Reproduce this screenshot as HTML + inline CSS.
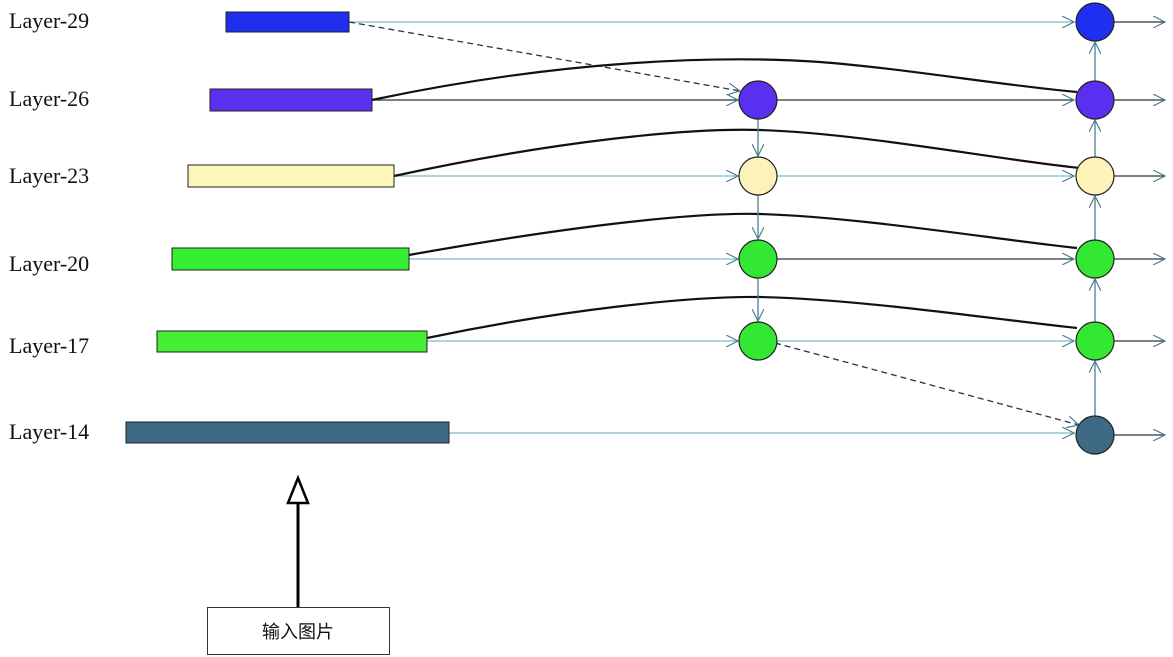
<!DOCTYPE html>
<html><head><meta charset="utf-8"><style>
html,body{margin:0;padding:0;background:#fff;}
svg{display:block}
text{font-family:"Liberation Serif",serif;font-size:22px;fill:#111}
</style></head><body>
<svg width="1173" height="657" viewBox="0 0 1173 657" xmlns="http://www.w3.org/2000/svg">
<defs>
<marker id="a" markerWidth="14" markerHeight="12" refX="12" refY="6" orient="auto" markerUnits="userSpaceOnUse">
<path d="M0,0 L12,6 L0,12" fill="none" stroke="#4a7f95" stroke-width="1.2"/>
</marker>
</defs>
<g>
<text x="9" y="28">Layer-29</text>
<text x="9" y="106">Layer-26</text>
<text x="9" y="183">Layer-23</text>
<text x="9" y="271">Layer-20</text>
<text x="9" y="353">Layer-17</text>
<text x="9" y="439">Layer-14</text>
</g>
<g stroke="#7fb6c8" stroke-width="1.3" fill="none">
<line x1="349" y1="22" x2="1074" y2="22" marker-end="url(#a)"/>
<line x1="394" y1="176" x2="738" y2="176" marker-end="url(#a)"/>
<line x1="409" y1="259" x2="738" y2="259" marker-end="url(#a)"/>
<line x1="427" y1="341" x2="738" y2="341" marker-end="url(#a)"/>
<line x1="449" y1="433" x2="1074" y2="433" marker-end="url(#a)"/>
<line x1="777" y1="176" x2="1074" y2="176" marker-end="url(#a)"/>
<line x1="777" y1="341" x2="1074" y2="341" marker-end="url(#a)"/>
</g>
<g stroke="#333" stroke-width="1.3" fill="none">
<line x1="372" y1="100" x2="738" y2="100" marker-end="url(#a)"/>
<line x1="777" y1="100" x2="1074" y2="100" marker-end="url(#a)"/>
<line x1="777" y1="259" x2="1074" y2="259" marker-end="url(#a)"/>
<line x1="1114" y1="22" x2="1165" y2="22" marker-end="url(#a)"/>
<line x1="1114" y1="100" x2="1165" y2="100" marker-end="url(#a)"/>
<line x1="1114" y1="176" x2="1165" y2="176" marker-end="url(#a)"/>
<line x1="1114" y1="259" x2="1165" y2="259" marker-end="url(#a)"/>
<line x1="1114" y1="341" x2="1165" y2="341" marker-end="url(#a)"/>
<line x1="1114" y1="435" x2="1165" y2="435" marker-end="url(#a)"/>
</g>
<g stroke="#333" stroke-width="1.3" fill="none" stroke-dasharray="6,4">
<line x1="349" y1="22" x2="740" y2="91" marker-end="url(#a)"/>
<line x1="775" y1="343" x2="1079" y2="425" marker-end="url(#a)"/>
</g>
<g stroke="#111" stroke-width="2.2" fill="none">
<path d="M372,100 C560,60 720,55 820,62 C900,68 1000,85 1077,92"/>
<path d="M394,176 C560,140 690,128 760,130 C860,133 1000,160 1080,168"/>
<path d="M409,255 C560,228 690,212 760,214 C860,217 1000,240 1077,248"/>
<path d="M427,338 C560,310 690,296 760,297 C860,299 1000,320 1077,328"/>
</g>
<g stroke="#4a7f95" stroke-width="1.3" fill="none">
<line x1="758" y1="119" x2="758" y2="156" marker-end="url(#a)"/>
<line x1="758" y1="195" x2="758" y2="239" marker-end="url(#a)"/>
<line x1="758" y1="278" x2="758" y2="321" marker-end="url(#a)"/>
<line x1="1095" y1="416" x2="1095" y2="361" marker-end="url(#a)"/>
<line x1="1095" y1="322" x2="1095" y2="279" marker-end="url(#a)"/>
<line x1="1095" y1="240" x2="1095" y2="196" marker-end="url(#a)"/>
<line x1="1095" y1="157" x2="1095" y2="120" marker-end="url(#a)"/>
<line x1="1095" y1="81" x2="1095" y2="42" marker-end="url(#a)"/>
</g>
<g stroke="#222" stroke-width="1">
<rect x="226" y="12" width="123" height="20" fill="#1f2ff0"/>
<rect x="210" y="89" width="162" height="22" fill="#5a2ff0"/>
<rect x="188" y="165" width="206" height="22" fill="#fdf6b8"/>
<rect x="172" y="248" width="237" height="22" fill="#33ee33"/>
<rect x="157" y="331" width="270" height="21" fill="#44ee33"/>
<rect x="126" y="422" width="323" height="21" fill="#3e6a86"/>
</g>
<g stroke="#222" stroke-width="1.2">
<circle cx="1095" cy="22" r="19" fill="#1f2ff0"/>
<circle cx="758" cy="100" r="19" fill="#5a2ff0"/>
<circle cx="1095" cy="100" r="19" fill="#5a2ff0"/>
<circle cx="758" cy="176" r="19" fill="#fdf3b8"/>
<circle cx="1095" cy="176" r="19" fill="#fdf3b8"/>
<circle cx="758" cy="259" r="19" fill="#33e833"/>
<circle cx="1095" cy="259" r="19" fill="#33e833"/>
<circle cx="758" cy="341" r="19" fill="#33e833"/>
<circle cx="1095" cy="341" r="19" fill="#33e833"/>
<circle cx="1095" cy="435" r="19" fill="#3e6a86"/>
</g>
<line x1="298" y1="607" x2="298" y2="502" stroke="#000" stroke-width="3"/>
<polygon points="298,478 288,503 308,503" fill="#fff" stroke="#000" stroke-width="2.5"/>
<rect x="207.5" y="607.5" width="182" height="47" fill="#fff" stroke="#333" stroke-width="1"/>
<text x="298" y="638" text-anchor="middle" style="font-family:'Liberation Sans','Noto Sans CJK SC',sans-serif;font-size:18px">输入图片</text>
</svg>
</body></html>
